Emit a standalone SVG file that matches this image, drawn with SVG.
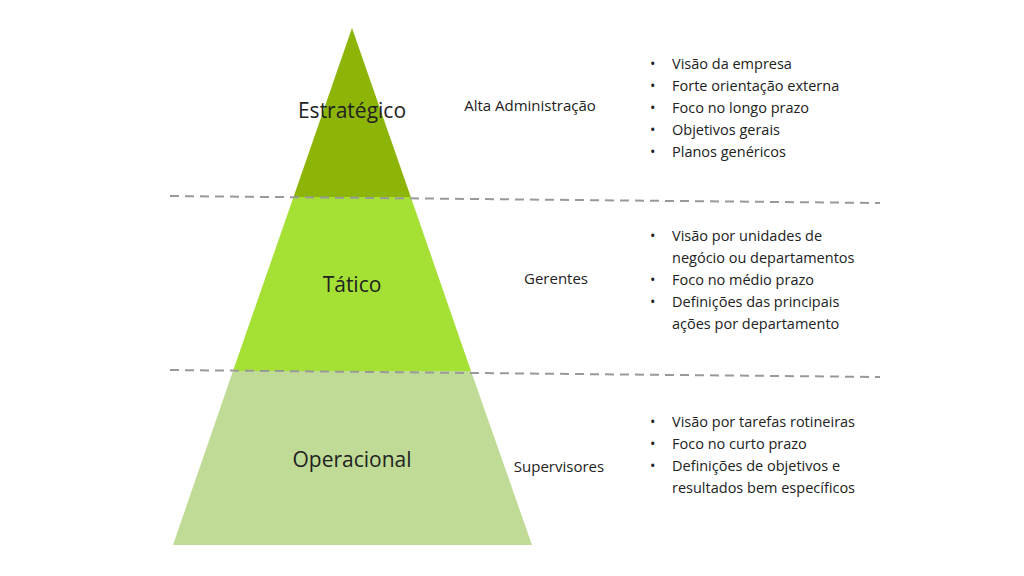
<svg xmlns="http://www.w3.org/2000/svg" width="1024" height="576" viewBox="0 0 1024 576">
<style>
text{font-family:"Open Sans","Liberation Sans",sans-serif;fill:#222}
.lv{font-size:21px}
.rl{font-size:15px}
.b{font-size:14.5px}
.d{stroke:#999;stroke-width:2;stroke-dasharray:9 6;fill:none}
</style>
<rect width="1024" height="576" fill="#fff"/>
<g id="estrategico">
<polygon points="352,28 410.8,197 293.5,197" fill="#8cb508"/>
<text class="lv" x="352" y="118" text-anchor="middle">Estratégico</text>
</g>
<g id="tatico">
<polygon points="293.5,197 410.8,197 471,371 233,371" fill="#a5e035"/>
<text class="lv" x="352" y="292" text-anchor="middle">Tático</text>
</g>
<g id="operacional">
<polygon points="233,371 471,371 532,545 173,545" fill="#bfdb96"/>
<text class="lv" x="352" y="467" text-anchor="middle">Operacional</text>
</g>
<g id="connectors">
<path class="d" d="M170,196 L880,203"/>
<path class="d" d="M170,370 L880,377"/>
</g>
<g id="roles">
<text class="rl" x="530" y="111" text-anchor="middle">Alta Administração</text>
<text class="rl" x="556" y="284" text-anchor="middle">Gerentes</text>
<text class="rl" x="559" y="472" text-anchor="middle">Supervisores</text>
</g>
<g id="bullets" class="b">
<text class="b" x="650" y="69">•<tspan x="672">Visão da empresa</tspan></text>
<text class="b" x="650" y="91">•<tspan x="672">Forte orientação externa</tspan></text>
<text class="b" x="650" y="113">•<tspan x="672">Foco no longo prazo</tspan></text>
<text class="b" x="650" y="135">•<tspan x="672">Objetivos gerais</tspan></text>
<text class="b" x="650" y="157">•<tspan x="672">Planos genéricos</tspan></text>
<text class="b" x="650" y="241">•<tspan x="672">Visão por unidades de</tspan></text>
<text class="b" x="672" y="263">negócio ou departamentos</text>
<text class="b" x="650" y="285">•<tspan x="672">Foco no médio prazo</tspan></text>
<text class="b" x="650" y="307">•<tspan x="672">Definições das principais</tspan></text>
<text class="b" x="672" y="329">ações por departamento</text>
<text class="b" x="650" y="427">•<tspan x="672">Visão por tarefas rotineiras</tspan></text>
<text class="b" x="650" y="449">•<tspan x="672">Foco no curto prazo</tspan></text>
<text class="b" x="650" y="471">•<tspan x="672">Definições de objetivos e</tspan></text>
<text class="b" x="672" y="493">resultados bem específicos</text>
</g>
</svg>
